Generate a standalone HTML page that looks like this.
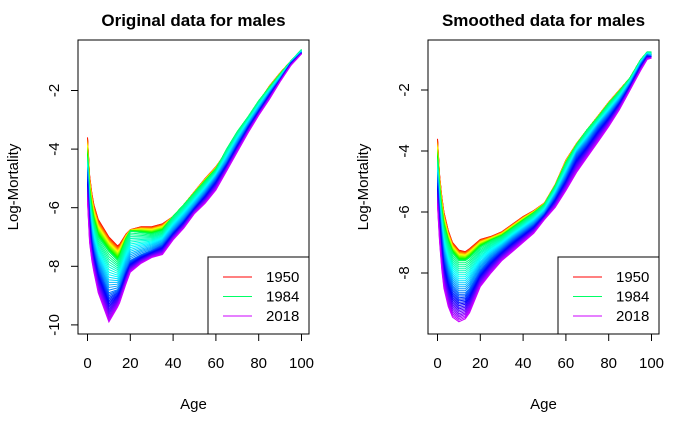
<!DOCTYPE html>
<html><head><meta charset="utf-8"><style>
body{margin:0;background:#fff}
svg{display:block;font-family:"Liberation Sans",Arial,sans-serif}
</style></head><body>
<svg id="chart" width="700" height="432" viewBox="0 0 700 432"></svg>
<script>
// ---- data ----
const anchorYears = [1950, 1984, 2000, 2018];
const origAges = [0,1,2,3,5,10,14,15,18,20,25,30,35,40,45,50,55,60,65,70,75,80,85,90,95,100];
const orig1950 = [-3.6,-4.9,-5.5,-5.9,-6.4,-7.0,-7.3,-7.25,-6.9,-6.75,-6.65,-6.65,-6.55,-6.3,-5.9,-5.45,-5.0,-4.6,-4.1,-3.5,-2.95,-2.4,-1.85,-1.4,-1.0,-0.65];
const orig1984 = [-4.3,-5.5,-6.1,-6.5,-7.0,-7.5,-7.8,-7.7,-7.1,-6.8,-6.85,-6.9,-6.8,-6.3,-5.9,-5.5,-5.1,-4.7,-4.0,-3.4,-2.9,-2.35,-1.9,-1.45,-1.0,-0.6];
const orig2000 = [-4.8,-6.2,-7.0,-7.4,-8.0,-8.9,-8.8,-8.7,-8.1,-7.8,-7.6,-7.45,-7.25,-6.8,-6.4,-5.95,-5.5,-5.0,-4.45,-3.8,-3.2,-2.65,-2.1,-1.6,-1.05,-0.7];
const orig2018 = [-5.8,-7.2,-7.8,-8.2,-8.9,-9.9,-9.4,-9.25,-8.6,-8.2,-7.9,-7.7,-7.6,-7.1,-6.7,-6.2,-5.85,-5.4,-4.75,-4.1,-3.45,-2.85,-2.3,-1.7,-1.15,-0.75];
const smAges = [0,1,2,3,5,7,10,13,15,20,25,30,35,40,45,50,55,60,65,70,75,80,85,90,95,98,100];
const sm1950 = [-3.6,-4.8,-5.5,-6.0,-6.6,-7.0,-7.25,-7.3,-7.2,-6.9,-6.8,-6.65,-6.4,-6.15,-5.95,-5.7,-5.1,-4.3,-3.75,-3.3,-2.85,-2.4,-2.0,-1.6,-1.0,-0.8,-0.85];
const sm1984 = [-4.3,-5.3,-6.0,-6.5,-7.0,-7.35,-7.6,-7.6,-7.5,-7.15,-6.95,-6.8,-6.55,-6.3,-6.05,-5.75,-5.15,-4.4,-3.8,-3.3,-2.9,-2.45,-2.05,-1.6,-1.0,-0.75,-0.75];
const sm2000 = [-4.9,-6.0,-6.8,-7.4,-8.0,-8.4,-8.65,-8.65,-8.5,-7.9,-7.5,-7.2,-6.9,-6.65,-6.4,-6.05,-5.5,-4.85,-4.1,-3.7,-3.2,-2.8,-2.35,-1.8,-1.15,-0.85,-0.9];
const sm2018 = [-5.8,-7.0,-7.9,-8.5,-9.1,-9.45,-9.6,-9.5,-9.3,-8.45,-8.0,-7.6,-7.3,-7.0,-6.7,-6.25,-5.85,-5.3,-4.7,-4.2,-3.7,-3.2,-2.65,-2.0,-1.35,-1.0,-0.95];
const xTicks = [0,20,40,60,80,100];
const yTicksLeft = [-2,-4,-6,-8,-10];
const yTicksRight = [-2,-4,-6,-8];
const legendYears = [1950,1984,2018];
const firstYear = 1950, lastYear = 2018;

const svg = document.getElementById('chart');
const NS = 'http://www.w3.org/2000/svg';
function mk(tag, attrs, parent){const e=document.createElementNS(NS,tag);for(const k in attrs)e.setAttribute(k,attrs[k]);(parent||svg).appendChild(e);return e;}
function color(year){const n=lastYear-firstYear;const h=0.8*(year-firstYear)/n*360;return `hsl(${h},100%,50%)`;}
function interpCurve(year, anchors){
  let i=0; while(i<anchorYears.length-2 && year>anchorYears[i+1]) i++;
  const t=(year-anchorYears[i])/(anchorYears[i+1]-anchorYears[i]);
  return anchors[i].map((v,k)=>v+(anchors[i+1][k]-v)*t);
}
function panel(cfg){
  const g=mk('g',{});
  
  
  const xs=a=>cfg.x0+a*cfg.xs, ys=v=>cfg.y2+(-2-v)*cfg.ys;
  for(let yr=firstYear;yr<=lastYear;yr++){
    const c=interpCurve(yr,cfg.anchors);
    const p=mk('polyline',{points:cfg.ages.map((a,k)=>xs(a).toFixed(1)+','+ys(c[k]).toFixed(1)).join(' '),fill:'none',stroke:color(yr),'stroke-width':1},g);
    
    
  }
  const box=mk('rect',{x:cfg.bx,y:40,width:cfg.bw,height:294,fill:'none',stroke:'#000','stroke-width':1},g);
  
  
  xTicks.forEach(t=>{
    mk('line',{x1:xs(t),x2:xs(t),y1:334,y2:341,stroke:'#000'},g);
    const tx=mk('text',{x:xs(t),y:368,'font-size':15,'text-anchor':'middle'},g);tx.textContent=t;
    
    
  });
  cfg.yticks.forEach(t=>{
    const y=ys(t);
    mk('line',{x1:cfg.bx,x2:cfg.bx-7,y1:y,y2:y,stroke:'#000'},g);
    const tx=mk('text',{x:cfg.bx-19,y:y,'font-size':15,'text-anchor':'middle',transform:`rotate(-90 ${cfg.bx-19} ${y})`},g);tx.textContent=t;
    
    
  });
  const title=mk('text',{x:cfg.bx+cfg.bw/2,y:26,'font-size':17,'font-weight':'bold','text-anchor':'middle'},g);title.textContent=cfg.title;
  
  
  const xl=mk('text',{x:cfg.bx+cfg.bw/2,y:409,'font-size':15,'text-anchor':'middle'},g);xl.textContent='Age';
  
  
  const yl=mk('text',{x:cfg.bx-60,y:187,'font-size':15,'text-anchor':'middle',transform:`rotate(-90 ${cfg.bx-60} 187)`},g);yl.textContent='Log-Mortality';
  
  
  const lg=mk('g',{},g);
  
  
  const lx=cfg.bx+cfg.bw-101;
  mk('rect',{x:lx,y:257,width:101,height:77,fill:'#fff',stroke:'#000'},lg);
  legendYears.forEach((yr,i)=>{
    const y=277+i*19.5;
    mk('line',{x1:lx+15,x2:lx+44,y1:y,y2:y,stroke:color(yr)},lg);
    const t=mk('text',{x:lx+58,y:y+5,'font-size':15},lg);t.textContent=yr;
    
    
  });
}
panel({name:'original-panel',title:'Original data for males',x0:87.5,xs:2.14,y2:90.5,ys:29.3,bx:78,bw:231,yticks:yTicksLeft,ages:origAges,anchors:[orig1950,orig1984,orig2000,orig2018]});
panel({name:'smoothed-panel',title:'Smoothed data for males',x0:437.5,xs:2.14,y2:90,ys:30.5,bx:428,bw:231,yticks:yTicksRight,ages:smAges,anchors:[sm1950,sm1984,sm2000,sm2018]});
</script>
</body></html>
